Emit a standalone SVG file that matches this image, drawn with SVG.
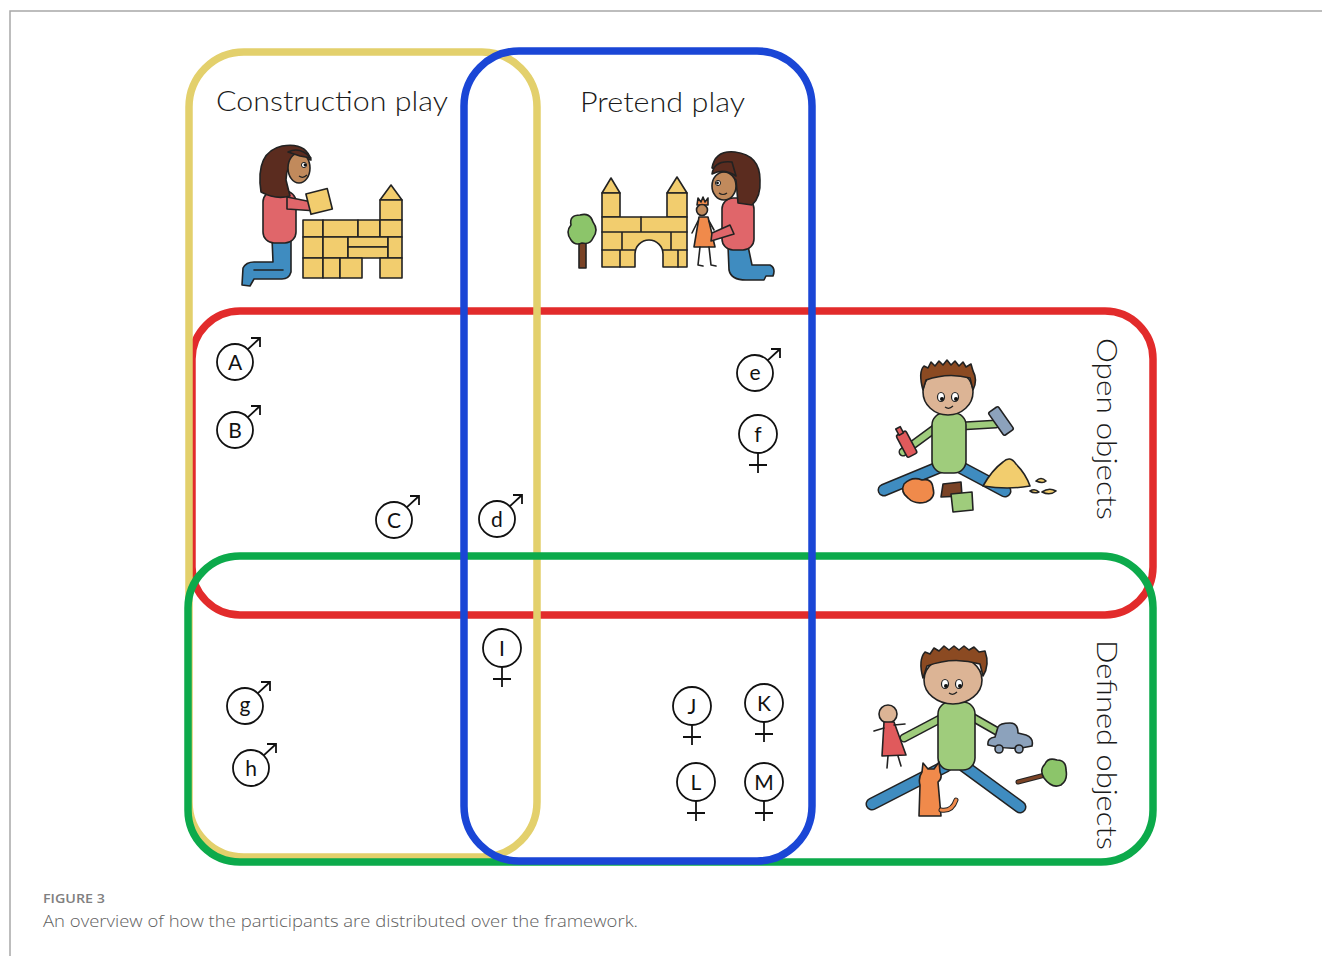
<svg xmlns="http://www.w3.org/2000/svg" width="1322" height="956" viewBox="0 0 1322 956">
<style>
.frame{fill:none;stroke-width:7.5}
.lbl{font-family:Lato,"Open Sans","Liberation Sans",sans-serif;font-size:28px;font-weight:300;fill:#1a1a1a}
.sym{fill:none;stroke:#111;stroke-width:1.8}
.let{font-family:Lato,"Liberation Sans",sans-serif;font-size:21px;font-weight:400;fill:#111;text-anchor:middle}
.ink{stroke:#222;stroke-width:1.6;stroke-linejoin:round;stroke-linecap:round}
.blk{fill:#f2cd6e}
.pink{fill:#e0666a}
.blue{fill:#3f8cc0}
.hair{fill:#5b2c1f}
.skin{fill:#c18a5c}
.bskin{fill:#dcb495}
.bhair{fill:#8b4a22}
.green{fill:#9fcc7c}
.orange{fill:#f08a4b}
.brown{fill:#7a4326}
.gray{fill:#8ca2bc}
.red{fill:#e05a5c}
.cap1{font-family:"Open Sans","Liberation Sans",sans-serif;font-size:13px;font-weight:600;fill:#808080}
.cap2{font-family:"Open Sans","Liberation Sans",sans-serif;font-size:17px;font-weight:300;fill:#606060}
</style>
<defs>
<g id="male" class="sym">
<circle cx="0" cy="0" r="18"/>
<path d="M12.7,-12.7 L25,-24 M16,-24 H25 V-15"/>
</g>
<g id="female" class="sym">
<circle cx="0" cy="0" r="19"/>
<path d="M0,19 V39 M-9,31 H9"/>
</g>
</defs>
<rect width="1322" height="956" fill="#fff"/>
<path d="M10,956 V11 H1322" fill="none" stroke="#a8a8a8" stroke-width="1.5"/>

<g id="open-objects-frame"><rect class="frame" x="192" y="311" width="961" height="304" rx="48" stroke="#e22b2b"/></g>
<g id="construction-play-frame"><rect class="frame" x="189" y="52" width="348" height="805" rx="55" stroke="#e3d06c"/></g>
<g id="defined-objects-frame"><rect class="frame" x="188" y="556" width="965" height="306" rx="52" stroke="#0caa4b"/></g>
<g id="pretend-play-frame"><rect class="frame" x="464" y="51" width="348" height="810" rx="55" stroke="#1a46d6"/></g>
<g id="connectors"/>

<g id="construction-play">
<text class="lbl" x="216" y="111" textLength="232" lengthAdjust="spacingAndGlyphs">Construction play</text>
<g id="construction-drawing">
<path class="blue ink" d="M272,238 L291,238 L291,272 Q289,279 282,279 L254,279 L250,286 L242,285 L243,268 Q246,262 254,262 L273,262 Z"/>
<path class="ink" d="M254,270 L283,270" fill="none"/>
<rect class="pink ink" x="263" y="191" width="33" height="52" rx="11"/>
<path class="pink ink" d="M287,197 L317,203 L317,211 L287,209 Z"/>
<path class="hair ink" d="M261,192 Q255,152 282,146 Q306,142 311,160 L296,158 Q286,166 286,180 L290,196 Q276,200 261,192 Z"/>
<ellipse class="skin ink" cx="299" cy="168" rx="11" ry="15"/>
<path class="hair ink" d="M288,152 Q300,146 311,158 L300,156 Z"/>
<circle cx="304" cy="165" r="2.6" fill="#fff" stroke="#222" stroke-width="1"/>
<circle cx="305" cy="165" r="1.4" fill="#111"/>
<path d="M299,176 Q303,179 307,175" fill="none" stroke="#222" stroke-width="1.2"/>
<rect class="blk ink" x="308" y="191" width="22" height="21" transform="rotate(-14 319 201)"/>
<g class="blk ink">
<path d="M380,200 L391,185 L402,200 Z"/>
<rect x="380" y="200" width="22" height="20"/>
<rect x="303" y="220" width="20" height="17"/>
<rect x="323" y="220" width="35" height="17"/>
<rect x="358" y="220" width="22" height="17"/>
<rect x="380" y="220" width="22" height="17"/>
<rect x="303" y="237" width="20" height="21"/>
<rect x="323" y="237" width="25" height="21"/>
<rect x="348" y="237" width="40" height="10"/>
<rect x="348" y="247" width="40" height="11"/>
<rect x="388" y="237" width="14" height="21"/>
<rect x="303" y="258" width="20" height="20"/>
<rect x="323" y="258" width="17" height="20"/>
<rect x="340" y="258" width="22" height="20"/>
<rect x="380" y="258" width="22" height="20"/>
</g>
</g>
</g>

<g id="pretend-play">
<text class="lbl" x="580" y="112" textLength="165" lengthAdjust="spacingAndGlyphs">Pretend play</text>
<g id="pretend-drawing">
<rect class="brown ink" x="579" y="240" width="7" height="28"/>
<path class="ink" fill="#8cc56a" d="M571,240 Q565,232 571,225 Q569,215 580,215 Q590,212 593,222 Q599,230 593,238 Q590,245 582,243 Q575,246 571,240 Z"/>
<g class="blk ink">
<path d="M602,193 L611,178 L620,193 Z"/>
<path d="M667,193 L677,177 L687,193 Z"/>
<rect x="602" y="193" width="18" height="24"/>
<rect x="667" y="193" width="20" height="24"/>
<path d="M602,217 H687 V267 H663 V254 A14,14 0 0 0 635,254 V267 H602 Z"/>
</g>
<path class="ink" fill="none" d="M602,232 H687 M602,250 H635 M663,250 H687 M641,217 V232 M622,232 V250 M671,232 V250 M620,250 V267 M678,250 V267"/>
<path class="orange ink" d="M697,205 L698,198 L701,202 L703,197 L705,202 L708,198 L708,205 Z"/>
<circle class="skin ink" cx="702" cy="210" r="5.5"/>
<path class="orange ink" d="M699,217 L708,217 L715,247 L694,247 Z"/>
<path class="ink" fill="none" d="M700,247 L698,265 L703,266 M709,247 L711,265 L716,266 M698,221 L692,233 M709,221 L714,230"/>
<path class="blue ink" d="M728,246 L748,246 L752,265 L770,265 Q776,268 773,276 L766,276 L764,280 L746,280 Q731,280 729,270 Z"/>
<rect class="pink ink" x="722" y="198" width="32" height="52" rx="11"/>
<path class="pink ink" d="M730,225 L712,233 L711,241 L734,234 Z"/>
<path class="hair ink" d="M712,168 Q715,150 735,152 Q760,155 760,180 Q761,197 752,205 L738,203 L736,180 Q728,172 712,168 Z"/>
<ellipse class="skin ink" cx="724" cy="186" rx="12" ry="14"/>
<path class="hair ink" d="M712,174 Q714,160 732,162 L736,176 Q724,168 712,174 Z"/>
<circle cx="718" cy="183" r="2.6" fill="#fff" stroke="#222" stroke-width="1"/>
<circle cx="717.5" cy="183" r="1.4" fill="#111"/>
<path d="M719,193 Q723,196 727,193" fill="none" stroke="#222" stroke-width="1.2"/>
</g>
</g>

<g id="open-objects">
<text class="lbl" transform="translate(1097,338) rotate(90)" x="0" y="0" textLength="182" lengthAdjust="spacingAndGlyphs">Open objects</text>
<g id="open-drawing">
<path d="M942,466 L884,490 M958,466 L1005,491" stroke="#222" stroke-width="13" stroke-linecap="round" fill="none"/>
<path d="M942,466 L884,490 M958,466 L1005,491" stroke="#3f8cc0" stroke-width="10" stroke-linecap="round" fill="none"/>
<path d="M937,427 L903,452 M962,426 L996,424" stroke="#222" stroke-width="9" stroke-linecap="round" fill="none"/>
<path d="M937,427 L903,452 M962,426 L996,424" stroke="#9fcc7c" stroke-width="6" stroke-linecap="round" fill="none"/>
<rect class="green ink" x="932" y="413" width="34" height="60" rx="12"/>
<g transform="rotate(-28 906 444)"><rect class="red ink" x="901" y="432" width="11" height="25" rx="2"/><rect class="red ink" x="904" y="426" width="5" height="7"/></g>
<g transform="rotate(-35 1001 421)"><rect class="gray ink" x="995" y="407" width="12" height="28" rx="2"/></g>
<ellipse class="bskin ink" cx="948" cy="392" rx="25" ry="23"/>
<path class="bhair ink" d="M923,390 Q918,372 924,366 L928,368 L931,362 L935,366 L939,361 L943,365 L947,360 L951,365 L955,361 L959,366 L963,362 L966,367 L971,364 L973,371 Q978,380 973,390 L970,378 Q948,372 926,380 Z"/>
<ellipse cx="941" cy="397" rx="3.5" ry="4.5" fill="#fff" stroke="#222" stroke-width="1.2"/>
<ellipse cx="955" cy="397" rx="3.5" ry="4.5" fill="#fff" stroke="#222" stroke-width="1.2"/>
<circle cx="942" cy="399" r="2" fill="#111"/>
<circle cx="956" cy="399" r="2" fill="#111"/>
<path d="M945,407 Q949,410 953,406" fill="none" stroke="#222" stroke-width="1.2"/>
<path class="orange ink" d="M904,484 Q912,476 922,480 Q932,478 933,488 Q936,498 926,502 Q915,505 908,498 Q900,492 904,484 Z"/>
<path class="brown ink" d="M943,484 L961,482 L962,496 L941,497 Z"/>
<path class="green ink" d="M951,494 L972,492 L973,510 L953,512 Z"/>
<path class="blk ink" d="M983,486 Q992,470 1003,462 Q1010,455 1016,464 Q1026,474 1030,486 Q1008,490 983,486 Z"/>
<path class="blk ink" d="M1036,481 Q1041,476 1046,481 Q1043,484 1036,481 Z M1042,492 Q1049,487 1056,491 Q1050,496 1042,492 Z M1030,491 Q1035,488 1039,492 Q1034,494 1030,491 Z"/>
</g>
</g>

<g id="defined-objects">
<text class="lbl" transform="translate(1097,640) rotate(90)" x="0" y="0" textLength="210" lengthAdjust="spacingAndGlyphs">Defined objects</text>
<g id="defined-drawing">
<path d="M946,766 L872,804 M964,766 L1020,807" stroke="#222" stroke-width="13" stroke-linecap="round" fill="none"/>
<path d="M946,766 L872,804 M964,766 L1020,807" stroke="#3f8cc0" stroke-width="10" stroke-linecap="round" fill="none"/>
<path d="M940,719 L904,738 M972,717 L1000,733" stroke="#222" stroke-width="9" stroke-linecap="round" fill="none"/>
<path d="M940,719 L904,738 M972,717 L1000,733" stroke="#9fcc7c" stroke-width="6" stroke-linecap="round" fill="none"/>
<rect class="green ink" x="938" y="702" width="37" height="68" rx="12"/>
<ellipse class="bskin ink" cx="953" cy="680" rx="29" ry="24"/>
<path class="bhair ink" d="M923,678 Q918,660 925,652 L930,654 L934,648 L939,651 L944,646 L949,650 L954,646 L959,650 L964,646 L969,650 L974,647 L979,652 L985,651 Q990,665 983,676 L980,664 Q953,656 927,666 Z"/>
<ellipse cx="945" cy="684" rx="3.5" ry="4.5" fill="#fff" stroke="#222" stroke-width="1.2"/>
<ellipse cx="959" cy="684" rx="3.5" ry="4.5" fill="#fff" stroke="#222" stroke-width="1.2"/>
<circle cx="946" cy="686" r="2" fill="#111"/>
<circle cx="960" cy="686" r="2" fill="#111"/>
<path d="M949,693 Q953,696 957,692" fill="none" stroke="#222" stroke-width="1.2"/>
<circle class="bskin ink" cx="888" cy="714" r="9"/>
<path class="red ink" d="M884,722 L894,722 L906,755 L882,756 Z"/>
<path class="ink" fill="none" d="M888,756 L887,768 M898,756 L901,766 M884,728 L874,731 M894,725 L905,724"/>
<path class="orange ink" d="M922,772 L923,763 L928,769 L934,769 L939,762 L940,772 Q943,778 938,782 L941,816 L919,816 L920,785 Q918,778 922,772 Z"/>
<path d="M941,810 Q952,812 956,800" fill="none" stroke="#222" stroke-width="5" stroke-linecap="round"/>
<path d="M941,810 Q952,812 956,800" fill="none" stroke="#f08a4b" stroke-width="3" stroke-linecap="round"/>
<path class="gray ink" d="M988,745 Q987,738 995,737 L998,727 Q1000,723 1010,723 Q1018,723 1018,733 L1026,735 Q1034,738 1032,746 Q1010,751 988,745 Z"/>
<circle class="gray ink" cx="999" cy="749" r="4"/>
<circle class="gray ink" cx="1019" cy="749" r="4"/>
<path d="M1018,782 L1045,775" stroke="#222" stroke-width="5" stroke-linecap="round"/>
<path d="M1018,782 L1045,775" stroke="#7a4326" stroke-width="3" stroke-linecap="round"/>
<path class="ink" fill="#8cc56a" d="M1044,778 Q1039,770 1045,764 Q1048,757 1057,760 Q1066,760 1066,770 Q1068,780 1061,785 Q1052,789 1044,778 Z"/>
</g>
</g>

<g id="participants">
<use href="#male" x="235" y="362"/><text class="let" x="235" y="370">A</text>
<use href="#male" x="235" y="430"/><text class="let" x="235" y="438">B</text>
<use href="#male" x="394" y="520"/><text class="let" x="394" y="528">C</text>
<use href="#male" x="497" y="519"/><text class="let" x="497" y="527">d</text>
<use href="#male" x="755" y="373"/><text class="let" x="755" y="380">e</text>
<use href="#female" x="758" y="434"/><text class="let" x="758" y="442">f</text>
<use href="#male" x="245" y="706"/><text class="let" x="245" y="712">g</text>
<use href="#male" x="251" y="768"/><text class="let" x="251" y="776">h</text>
<use href="#female" x="502" y="648"/><text class="let" x="502" y="656">I</text>
<use href="#female" x="692" y="706"/><text class="let" x="692" y="714">J</text>
<use href="#female" x="764" y="703"/><text class="let" x="764" y="711">K</text>
<use href="#female" x="696" y="782"/><text class="let" x="696" y="790">L</text>
<use href="#female" x="764" y="782"/><text class="let" x="764" y="790">M</text>
</g>

<g id="caption">
<text class="cap1" x="43" y="903" textLength="62" lengthAdjust="spacingAndGlyphs">FIGURE 3</text>
<text class="cap2" x="43" y="927" textLength="595" lengthAdjust="spacingAndGlyphs">An overview of how the participants are distributed over the framework.</text>
</g>
</svg>
